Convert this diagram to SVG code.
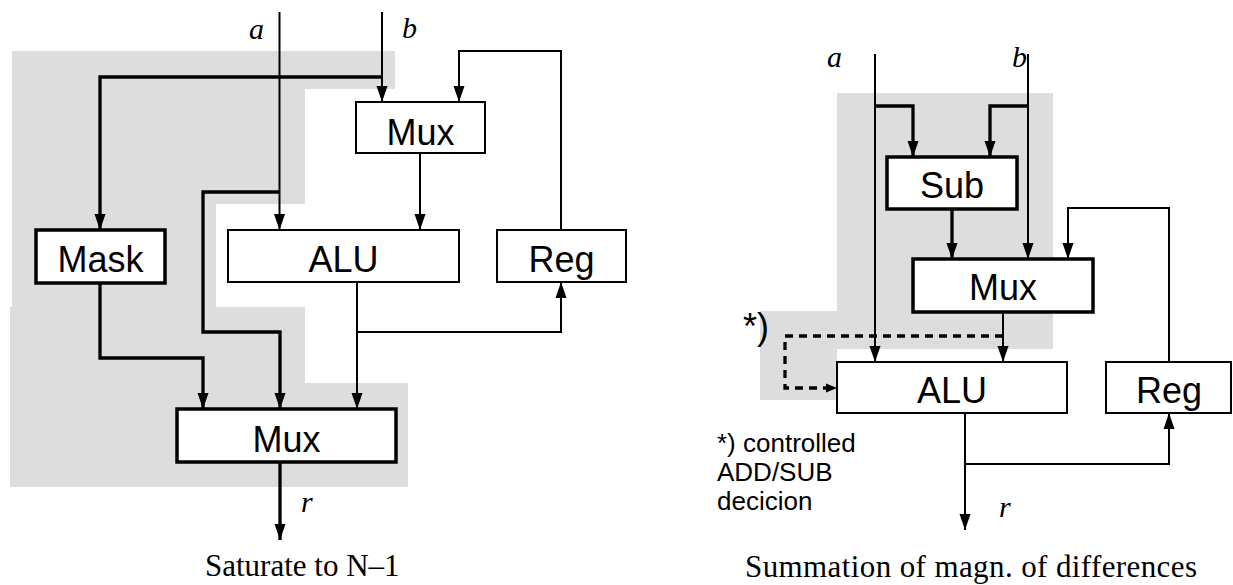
<svg xmlns="http://www.w3.org/2000/svg" width="1233" height="585" viewBox="0 0 1233 585">
<style>
.bg{fill:#ffffff}
.shade{fill:#dddddd;stroke:none}
.box{fill:#ffffff;stroke:#000;stroke-width:2}
.boxb{fill:#ffffff;stroke:#000;stroke-width:3.5}
.lbl{font-family:"Liberation Sans",Arial,sans-serif;font-size:36px;fill:#000;text-anchor:middle}
.var{font-family:"Liberation Serif","Times New Roman",serif;font-style:italic;font-size:30px;fill:#000}
.cap{font-family:"Liberation Serif","Times New Roman",serif;font-size:31px;fill:#000}
.note{font-family:"Liberation Sans",Arial,sans-serif;font-size:26px;fill:#000}
.star{font-family:"Liberation Sans",Arial,sans-serif;font-size:36px;fill:#000}
.w{fill:none;stroke:#000;stroke-width:2}
.wb{fill:none;stroke:#000;stroke-width:3.3}
.dash{fill:none;stroke:#000;stroke-width:3.3;stroke-dasharray:8 6}
</style>
<defs>
<marker id="arr" markerUnits="userSpaceOnUse" markerWidth="16" markerHeight="12" refX="16" refY="6" orient="auto">
<path d="M0,0.5 L16,6 L0,11.5 Z" fill="#000"/>
</marker>
<marker id="arrs" markerUnits="userSpaceOnUse" markerWidth="11" markerHeight="10" refX="11" refY="5" orient="auto">
<path d="M0,0.5 L11,5 L0,9.5 Z" fill="#000"/>
</marker>
</defs>
<rect class="bg" x="0" y="0" width="1233" height="585"/>
<path class="shade" d="M12,51 H395 V89 H305 V204 H216 V307 H305 V383 H408 V487 H10 V307 H12 Z"/>
<path class="shade" d="M837,93 H1053 V349 H837 V400 H760 V311 H837 Z"/>

<g id="connectors">
<path class="w" d="M279.5,12 V230" marker-end="url(#arr)"/>
<path class="w" d="M382,12 V102" marker-end="url(#arr)"/>
<path class="wb" d="M382,77 H100 V230" marker-end="url(#arr)"/>
<path class="wb" d="M279.5,192 H203 V332 H280 V409" marker-end="url(#arr)"/>
<path class="w" d="M420,153 V230" marker-end="url(#arr)"/>
<path class="w" d="M561,230 V51 H459 V102" marker-end="url(#arr)"/>
<path class="wb" d="M100,283 V358 H203 V409" marker-end="url(#arr)"/>
<path class="w" d="M357,282 V409" marker-end="url(#arr)"/>
<path class="w" d="M357,332 H561 V282" marker-end="url(#arr)"/>
<path class="wb" d="M280,462 V540" marker-end="url(#arr)"/>

<path class="w" d="M875,54 V362" marker-end="url(#arr)"/>
<path class="w" d="M1028,54 V259" marker-end="url(#arr)"/>
<path class="wb" d="M875,106 H913 V157" marker-end="url(#arr)"/>
<path class="wb" d="M1028,106 H990 V157" marker-end="url(#arr)"/>
<path class="wb" d="M952,209 V259" marker-end="url(#arr)"/>
<path class="w" d="M1169,362 V208 H1068 V259" marker-end="url(#arr)"/>
<path class="w" d="M1003,312 V362" marker-end="url(#arr)"/>
<path class="dash" d="M1003,336 H785 V388 H837" marker-end="url(#arrs)"/>
<path class="w" d="M965,413 V530" marker-end="url(#arr)"/>
<path class="w" d="M965,464 H1169 V413" marker-end="url(#arr)"/>
</g>

<g id="mux1">
<rect class="box" x="356" y="102" width="129" height="51"/>
<text class="lbl" x="420.5" y="144.5">Mux</text>
</g>
<g id="mask">
<rect class="boxb" x="36" y="230" width="129" height="53"/>
<text class="lbl" x="100.5" y="272">Mask</text>
</g>
<g id="alu1">
<rect class="box" x="228" y="230" width="231" height="52"/>
<text class="lbl" x="343.5" y="272">ALU</text>
</g>
<g id="reg1">
<rect class="box" x="497" y="230" width="129" height="52"/>
<text class="lbl" x="561.5" y="272">Reg</text>
</g>
<g id="mux2">
<rect class="boxb" x="177" y="409" width="219" height="53"/>
<text class="lbl" x="286.5" y="451.5">Mux</text>
</g>

<g id="sub">
<rect class="boxb" x="887" y="157" width="130" height="52"/>
<text class="lbl" x="952" y="197.5">Sub</text>
</g>
<g id="mux3">
<rect class="boxb" x="913" y="259" width="180" height="53"/>
<text class="lbl" x="1003" y="300">Mux</text>
</g>
<g id="alu2">
<rect class="box" x="837" y="362" width="230" height="51"/>
<text class="lbl" x="952" y="403">ALU</text>
</g>
<g id="reg2">
<rect class="box" x="1106" y="362" width="125" height="51"/>
<text class="lbl" x="1169" y="403">Reg</text>
</g>

<g id="labels">
<text class="var" x="249" y="39">a</text>
<text class="var" x="402" y="38">b</text>
<text class="var" x="301" y="512">r</text>
<text class="cap" x="205" y="576">Saturate to N–1</text>
<text class="var" x="827" y="67">a</text>
<text class="var" x="1012" y="67">b</text>
<text class="var" x="999" y="517">r</text>
<text class="star" x="743" y="339">*)</text>
<text class="note" x="717" y="452">*) controlled</text>
<text class="note" x="717" y="481">ADD/SUB</text>
<text class="note" x="717" y="510">decicion</text>
<text class="cap" x="745" y="577" textLength="452" lengthAdjust="spacing">Summation of magn. of differences</text>
</g>
</svg>
